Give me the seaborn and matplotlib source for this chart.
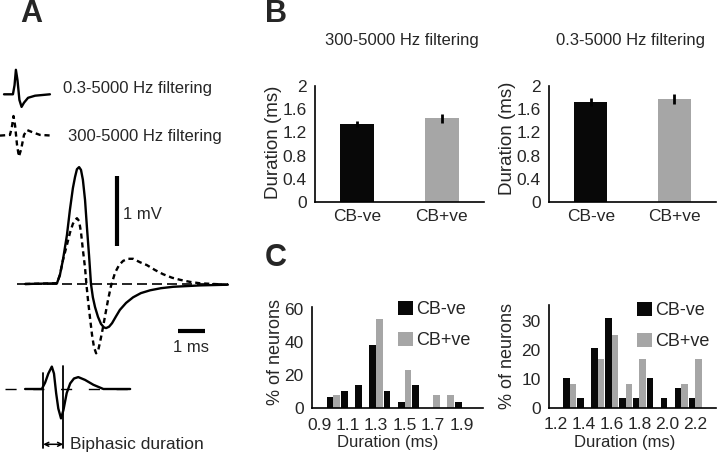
import numpy as np
import pandas as pd
import seaborn as sns
import matplotlib.pyplot as plt

# ---- panel A: waveforms (time in ms, voltage in mV) ----
wide_t = [0.30, 1.48, 1.59, 1.70, 1.85, 1.96, 2.07, 2.15, 2.22, 2.30, 2.37, 2.44, 2.52,
          2.59, 2.67, 2.74, 2.81, 2.89, 3.00, 3.11, 3.22, 3.30, 3.41, 3.52, 3.67, 3.81,
          4.04, 4.30, 4.59, 4.93, 5.33, 5.78, 6.78, 7.81]
wide_v = [0.00, 0.01, 0.13, 0.34, 0.70, 1.06, 1.37, 1.53, 1.64, 1.67, 1.63, 1.49, 1.20,
          0.81, 0.40, 0.00, -0.19, -0.33, -0.47, -0.57, -0.62, -0.63, -0.61, -0.56, -0.46,
          -0.37, -0.27, -0.19, -0.13, -0.09, -0.06, -0.04, -0.02, -0.01]
band_t = [0.30, 1.48, 1.59, 1.70, 1.85, 1.96, 2.07, 2.15, 2.22, 2.30, 2.37, 2.44, 2.52,
          2.57, 2.63, 2.70, 2.78, 2.85, 2.93, 3.00, 3.07, 3.15, 3.26, 3.37, 3.48, 3.63,
          3.78, 3.93, 4.11, 4.30, 4.56, 4.81, 5.11, 5.41, 5.74, 6.04, 6.41, 6.78, 7.81]
band_v = [0.00, 0.01, 0.13, 0.34, 0.56, 0.73, 0.86, 0.91, 0.94, 0.90, 0.74, 0.49, 0.23,
          0.00, -0.23, -0.47, -0.73, -0.90, -0.99, -0.96, -0.84, -0.69, -0.46, -0.23, -0.03,
          0.16, 0.27, 0.33, 0.36, 0.36, 0.31, 0.27, 0.20, 0.14, 0.09, 0.06, 0.03, 0.01, -0.01]

# small example spike used to show the biphasic duration
demo_t = [0.00, 0.62, 0.74, 0.86, 0.99, 1.07, 1.15, 1.23, 1.33, 1.42, 1.54, 1.67, 1.81,
          1.97, 2.22, 2.53, 2.90, 3.15, 3.89]
demo_v = [0.00, 0.00, 0.09, 0.22, 0.32, 0.22, -0.06, -0.28, -0.42, -0.30, -0.06, 0.08,
          0.15, 0.17, 0.13, 0.06, 0.00, 0.00, 0.00]
demo_marks = [0.67, 1.41]

# legend icons
icon_wide_t = [0.00, 0.33, 0.39, 0.44, 0.50, 0.57, 0.65, 0.74, 0.89, 1.15, 1.70]
icon_wide_v = [0.00, 0.00, 0.13, 0.35, 0.20, -0.08, -0.18, -0.12, -0.05, -0.02, 0.00]
icon_band_t = [0.00, 0.37, 0.44, 0.50, 0.56, 0.63, 0.70, 0.78, 0.89, 1.00, 1.19, 1.48, 1.93]
icon_band_v = [0.00, 0.01, 0.12, 0.28, 0.14, -0.13, -0.30, -0.20, 0.01, 0.08, 0.05, 0.01, 0.00]

# ---- panel B: mean biphasic duration (ms) ----
groups = ["CB-ve", "CB+ve"]
dur_300 = [1.34, 1.44]
sem_300 = [0.05, 0.07]
dur_03 = [1.73, 1.78]
sem_03 = [0.07, 0.09]

# ---- panel C: histograms (% of neurons) ----
bins_300 = ["1.0", "1.1", "1.2", "1.3", "1.4", "1.5", "1.6", "1.7", "1.8", "1.9"]
neg_300 = [6.9, 10.3, 13.8, 37.9, 10.3, 3.4, 13.8, 0, 0, 3.4]
pos_300 = [7.7, 0, 0, 53.8, 0, 23.1, 0, 7.7, 7.7, 0]
axis_300 = ["0.9"] + bins_300 + ["2.0"]

bins_03 = ["1.3", "1.4", "1.5", "1.6", "1.7", "1.8", "1.9", "2.0", "2.1", "2.2"]
neg_03 = [10.3, 3.4, 20.7, 31.0, 3.4, 3.4, 10.3, 3.4, 6.9, 3.4]
pos_03 = [8.3, 0, 16.7, 25.0, 8.3, 16.7, 0, 0, 8.3, 16.7]
axis_03 = ["1.2"] + bins_03 + ["2.3"]

BLACK = "#080808"
GRAY = "#a6a6a6"
W, H = 720, 455


def px(x, y):
    return x / W, 1 - y / H


def hist_frame(bins, neg, pos):
    return pd.DataFrame({
        "bin": bins * 2,
        "pct": neg + pos,
        "group": ["CB-ve"] * len(bins) + ["CB+ve"] * len(bins),
    })


def style_axes(ax):
    sns.despine(ax=ax)
    for s in ("left", "bottom"):
        ax.spines[s].set_linewidth(1.2)
        ax.spines[s].set_color("black")
    ax.tick_params(direction="out", length=4, width=1.1, color="black", pad=2)


def bar_panel(ax, means, sems):
    df = pd.DataFrame({"group": groups, "dur": means})
    sns.barplot(data=df, x="group", y="dur", hue="group", palette=[BLACK, GRAY],
                width=0.4, saturation=1, linewidth=0, errorbar=None, legend=False, ax=ax)
    ax.errorbar(range(len(groups)), means, yerr=sems, fmt="none", ecolor="black",
                elinewidth=2, capsize=0)
    ax.set_xlim(-0.5, 1.5)
    ax.set_ylim(0, 2)
    ax.set_yticks([0, 0.4, 0.8, 1.2, 1.6, 2.0])
    ax.set_yticklabels(["0", "0.4", "0.8", "1.2", "1.6", "2"])
    ax.set_xlabel("")
    ax.set_ylabel("")
    style_axes(ax)
    ax.tick_params(axis="x", length=0, pad=5)
    ax.set_xticks([0.5], minor=True)
    ax.tick_params(axis="x", which="minor", length=4, width=1.1, direction="out")
    ax.tick_params(labelsize=12.5)


def hist_panel(ax, bins, neg, pos, order, ymax, yticks, leg_xy):
    df = hist_frame(bins, neg, pos)
    sns.barplot(data=df, x="bin", y="pct", hue="group", order=order,
                hue_order=["CB-ve", "CB+ve"], palette=[BLACK, GRAY], width=0.95,
                saturation=1, linewidth=0, errorbar=None, ax=ax)
    ax.set_xlim(-0.5, len(order) - 0.5)
    ax.set_ylim(0, ymax)
    ax.set_yticks(yticks)
    ax.set_xticks(range(0, len(order), 2))
    ax.set_xticklabels(order[::2])
    ax.set_xticks(np.arange(-0.5, len(order), 1), minor=True)
    ax.set_xlabel("")
    ax.set_ylabel("")
    style_axes(ax)
    ax.tick_params(axis="x", which="major", length=0, pad=7)
    ax.tick_params(axis="x", which="minor", length=3.5, width=1.1, direction="out")
    ax.tick_params(labelsize=12.5)
    handles, labels = ax.get_legend_handles_labels()
    ax.legend(handles, labels, loc="upper left", bbox_to_anchor=px(*leg_xy),
              bbox_transform=fig.transFigure, frameon=False, fontsize=13,
              handlelength=0.85, handleheight=0.85, handletextpad=0.15,
              labelspacing=0.75, borderpad=0, borderaxespad=0)


sns.set_theme(style="white")
plt.rcParams["font.family"] = ["Liberation Sans", "DejaVu Sans"]

fig = plt.figure(figsize=(7.2, 4.55), dpi=100)

# ---------------- panel A ----------------
axA = fig.add_axes([0, 0, 280 / W, 1])
axA.set_xlim(-17 / 27, (280 - 17) / 27)
axA.set_ylim((284 - 455) / 70, 284 / 70)
axA.axis("off")

axA.plot([0, 7.81], [0, 0], color="black", lw=1.2, ls=(0, (6, 3)))
sns.lineplot(x=band_t, y=band_v, sort=False, estimator=None, color="black", lw=1.7,
             ls=(0, (2.2, 1.6)), ax=axA)
sns.lineplot(x=wide_t, y=wide_v, sort=False, estimator=None, color="black", lw=1.7, ax=axA)

# scale bars
axA.plot([3.70, 3.70], [0.54, 0.54 + 1.0], color="black", lw=3, solid_capstyle="butt")
axA.text(3.93, 0.99, "1 mV", fontsize=12, va="center", ha="left")
axA.plot([5.96, 5.96 + 1.0], [-0.67, -0.67], color="black", lw=3, solid_capstyle="butt")
axA.text(6.46, -0.90, "1 ms", fontsize=12, va="center", ha="center")

# legend icons
t0, v0 = -0.481, 2.71
axA.plot(np.array(icon_wide_t) + t0, np.array(icon_wide_v) + v0, color="black", lw=1.7)
axA.text(*px(63, 89), "0.3-5000 Hz filtering", transform=fig.transFigure,
         fontsize=12, va="center", ha="left")
t0, v0 = -0.630, 2.12
axA.plot(np.array(icon_band_t) + t0, np.array(icon_band_v) + v0, color="black", lw=1.7,
         ls=(0, (2.2, 1.6)))
axA.text(*px(68, 136), "300-5000 Hz filtering", transform=fig.transFigure,
         fontsize=12, va="center", ha="left")

# biphasic duration demo
t0, v0 = 0.30, -1.50
axA.plot([-0.74 + t0, 4.37 + t0], [v0, v0], color="black", lw=1.0, ls=(0, (8, 12)))
axA.plot(np.array(demo_t) + t0, np.array(demo_v) + v0, color="black", lw=1.7)
axA.plot([demo_marks[0] + t0] * 2, [0.23 + v0, -0.84 + v0], color="black", lw=1.3)
axA.plot([demo_marks[1] + t0] * 2, [0.33 + v0, -0.84 + v0], color="black", lw=1.3)
axA.annotate("", xy=(demo_marks[0] + t0, -0.79 + v0), xytext=(demo_marks[1] + t0, -0.79 + v0),
             arrowprops=dict(arrowstyle="<->", lw=1.1, color="black", shrinkA=0, shrinkB=0,
                             mutation_scale=7))
axA.text(1.67 + t0, -0.80 + v0, "Biphasic duration", fontsize=12.5, va="center", ha="left")

# ---------------- panel B ----------------
axB1 = fig.add_axes([315 / W, 1 - 202 / H, 169 / W, 116 / H])
bar_panel(axB1, dur_300, sem_300)
axB2 = fig.add_axes([549 / W, 1 - 202 / H, 167 / W, 116 / H])
bar_panel(axB2, dur_03, sem_03)

fig.text(*px(402, 40), "300-5000 Hz filtering", fontsize=12, ha="center", va="center")
fig.text(*px(630, 40), "0.3-5000 Hz filtering", fontsize=12, ha="center", va="center")
fig.text(*px(274, 142), "Duration (ms)", fontsize=13.5, rotation=90, ha="center", va="center")
fig.text(*px(508, 138), "Duration (ms)", fontsize=13.5, rotation=90, ha="center", va="center")

# ---------------- panel C ----------------
axC1 = fig.add_axes([312 / W, 1 - 408 / H, 171 / W, 61 * 1.65 / H])
hist_panel(axC1, bins_300, neg_300, pos_300, axis_300, 61, [0, 20, 40, 60], (398, 301))
axC2 = fig.add_axes([549 / W, 1 - 407.7 / H, 167 / W, 35.5 * 2.89 / H])
hist_panel(axC2, bins_03, neg_03, pos_03, axis_03, 35.5, [0, 10, 20, 30], (637, 302))

fig.text(*px(388, 442), "Duration (ms)", fontsize=12, ha="center", va="center")
fig.text(*px(625, 442), "Duration (ms)", fontsize=12, ha="center", va="center")
fig.text(*px(276, 352), "% of neurons", fontsize=13, rotation=90, ha="center", va="center")
fig.text(*px(508, 356), "% of neurons", fontsize=13, rotation=90, ha="center", va="center")

# panel letters
for letter, (x, y) in {"A": (31, 14), "B": (276, 14), "C": (276, 258)}.items():
    fig.text(*px(x, y), letter, fontsize=22, fontweight="bold", ha="center", va="center")

fig.savefig("out.png", dpi=100)
